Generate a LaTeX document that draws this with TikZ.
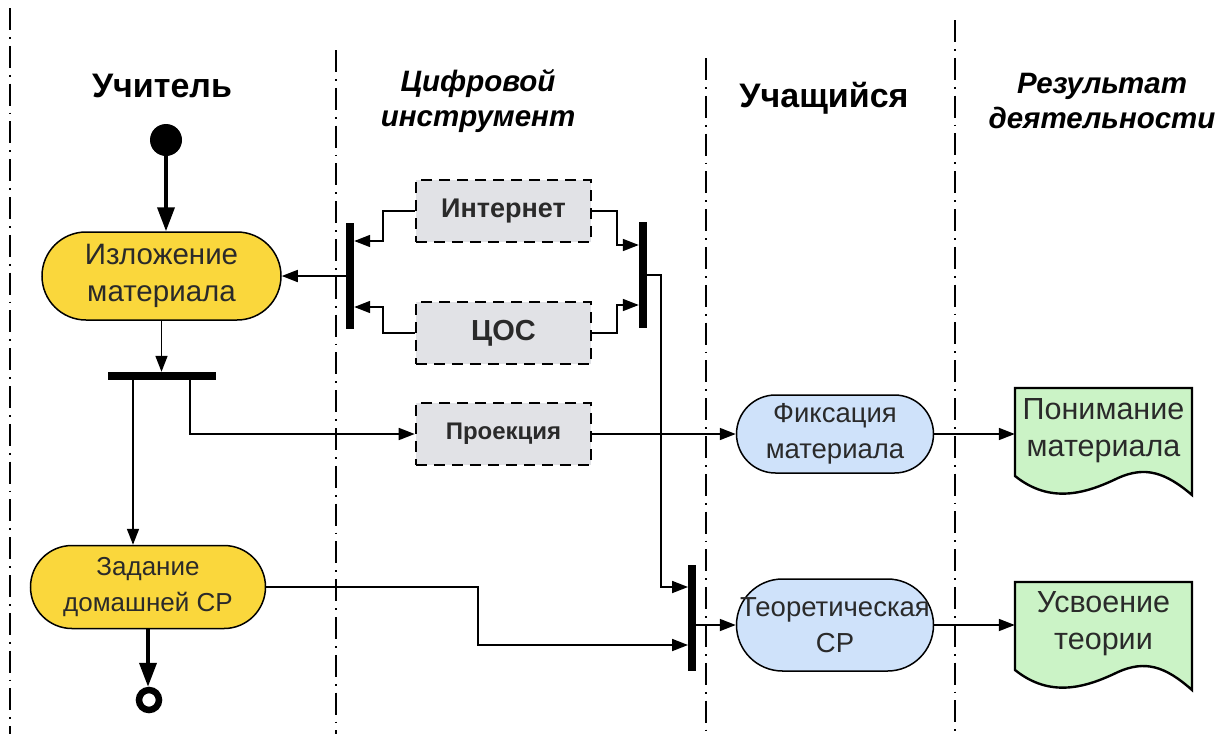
\documentclass[tikz,border=0pt]{standalone}
\usepackage{fontspec}
\setmainfont{Liberation Sans}
\usetikzlibrary{arrows.meta,calc}

\definecolor{actyellow}{HTML}{FAD73C}
\definecolor{actblue}{HTML}{CFE2FA}
\definecolor{resgreen}{HTML}{CBF3C6}
\definecolor{toolgray}{HTML}{E1E2E6}
\definecolor{inktext}{HTML}{2A2A2A}

\tikzset{
  lane/.style={line width=1.6pt, dash pattern=on 22pt off 7pt on 1.8pt off 7pt},
  head/.style={font=\fontsize{34}{40}\selectfont\bfseries, align=center, text=black},
  headit/.style={font=\fontsize{29.5}{35}\selectfont\bfseries\itshape, align=center, text=black},
  activity/.style={draw, line width=1.5pt, inner sep=0pt, align=center, text=inktext},
  teacheract/.style={activity, fill=actyellow},
  pupilact/.style={activity, fill=actblue, font=\fontsize{27.5}{36}\selectfont},
  tool/.style={draw, fill=toolgray, line width=2.6pt, dash pattern=on 11pt off 7pt,
    minimum width=175pt, minimum height=62pt, inner sep=0pt, text=inktext},
  bar/.style={fill=black, inner sep=0pt},
  arr/.style={line width=1.7pt, -{Triangle[length=16pt,width=12pt]}},
  thickarr/.style={line width=3.8pt, -{Triangle[length=24pt,width=17pt]}},
  docshape/.style={draw, line width=2.4pt, fill=resgreen},
  doctext/.style={inner sep=0pt, minimum width=177pt, align=center,
    font=\fontsize{30.5}{37}\selectfont, text=inktext}
}

\begin{document}
\begin{tikzpicture}[x=1pt,y=-1pt]
\useasboundingbox (0,0) rectangle (1230,734);

% swimlane separators
\draw[lane] (10,8) -- (10,734);
\draw[lane] (336,50) -- (336,734);
\draw[lane] (706,58) -- (706,734);
\draw[lane] (955,20) -- (955,734);

% lane titles
\node[head] (tTeacher) at (162,86) {Учитель};
\node[headit] (tTool) at (478,101) {Цифровой\\инструмент};
\node[head] (tPupil) at (824,98) {Учащийся};
\node[headit] (tResult) at (1102,101) {Результат\\деятельности};

% teacher lane
\node[circle, fill=black, minimum size=32pt, inner sep=0pt] (start) at (166,140) {};
\node[teacheract, font=\fontsize{29.5}{37}\selectfont, minimum width=239pt,
  minimum height=88pt, rounded corners=44pt] (izl) at (161.5,276) {Изложение\\материала};
\node[bar, minimum width=108pt, minimum height=8pt] (fork) at (162,376) {};
\node[teacheract, font=\fontsize{26}{36}\selectfont, minimum width=235pt,
  minimum height=83pt, rounded corners=41.5pt] (zad) at (148,587) {Задание\\домашней СР};
\node[circle, draw, line width=6.5pt, minimum size=20pt, inner sep=0pt] (stop) at (149,700) {};

% digital tools lane
\node[bar, minimum width=8pt, minimum height=106pt] (lbar) at (350,276) {};
\node[bar, minimum width=8pt, minimum height=106pt] (rbar) at (643,275) {};
\node[tool, font=\fontsize{27}{30}\selectfont\bfseries] (inet) at (503.5,211) {Интернет};
\node[tool, font=\fontsize{29}{32}\selectfont\bfseries] (cos) at (503.5,333) {ЦОС};
\node[tool, font=\fontsize{24}{28}\selectfont\bfseries] (proj) at (503.5,434) {Проекция};

% pupil lane
\node[bar, minimum width=7.5pt, minimum height=106pt] (join) at (692,618) {};
\node[pupilact, minimum width=197pt, minimum height=78pt, rounded corners=39pt]
  (fix) at (835,434) {Фиксация\\материала};
\node[pupilact, minimum width=197pt, minimum height=92pt, rounded corners=46pt]
  (teo) at (835,625) {Теоретическая\\СР};

% results lane: document shapes with a wavy lower edge
\draw[docshape] (1015,388) -- (1192,388) -- (1192,495)
  .. controls (1165,472) and (1145,466) .. (1118,478)
  .. controls (1085,494) and (1050,504) .. (1015,476) -- cycle;
\node[doctext] (und) at (1103.5,431) {Понимание\\материала};
\draw[docshape] (1015,582) -- (1192,582) -- (1192,690)
  .. controls (1165,666) and (1145,660) .. (1118,672)
  .. controls (1085,688) and (1050,698) .. (1015,670) -- cycle;
\node[doctext] (mast) at (1103.5,624) {Усвоение\\теории};

% control flow
\draw[thickarr] (start.center) -- (start.center |- izl.north);
\draw[arr] (izl.south) -- (izl.south |- fork.north);
\draw[arr] ([xshift=-29pt]fork.south) -- ([xshift=-29pt]fork.south |- zad.north);
\draw[arr] ([xshift=28pt]fork.south) |- (proj.west);
\draw[thickarr] (zad.south) -- (zad.south |- stop.north);
\draw[arr] (zad.east) -- ++(212,0) |- ([yshift=-27pt]join.west);

\draw[arr] (lbar.west) -- (izl.east);
\draw[arr] (inet.west) -- ++(-32,0) |- ([yshift=35pt]lbar.east);
\draw[arr] (cos.west) -- ++(-32,0) |- ([yshift=-31pt]lbar.east);
\draw[arr] (inet.east) -- ++(25,0) |- ([yshift=30pt]rbar.west);
\draw[arr] (cos.east) -- ++(25,0) |- ([yshift=-30pt]rbar.west);
\draw[arr] (rbar.east) -- ++(14,0) |- ([yshift=31pt]join.west);

\draw[arr] (proj.east) -- (fix.west);
\draw[arr] (join.east |- teo.west) -- (teo.west);
\draw[arr] (fix.east) -- (fix.east -| und.west);
\draw[arr] (teo.east) -- (teo.east -| mast.west);
\end{tikzpicture}
\end{document}
